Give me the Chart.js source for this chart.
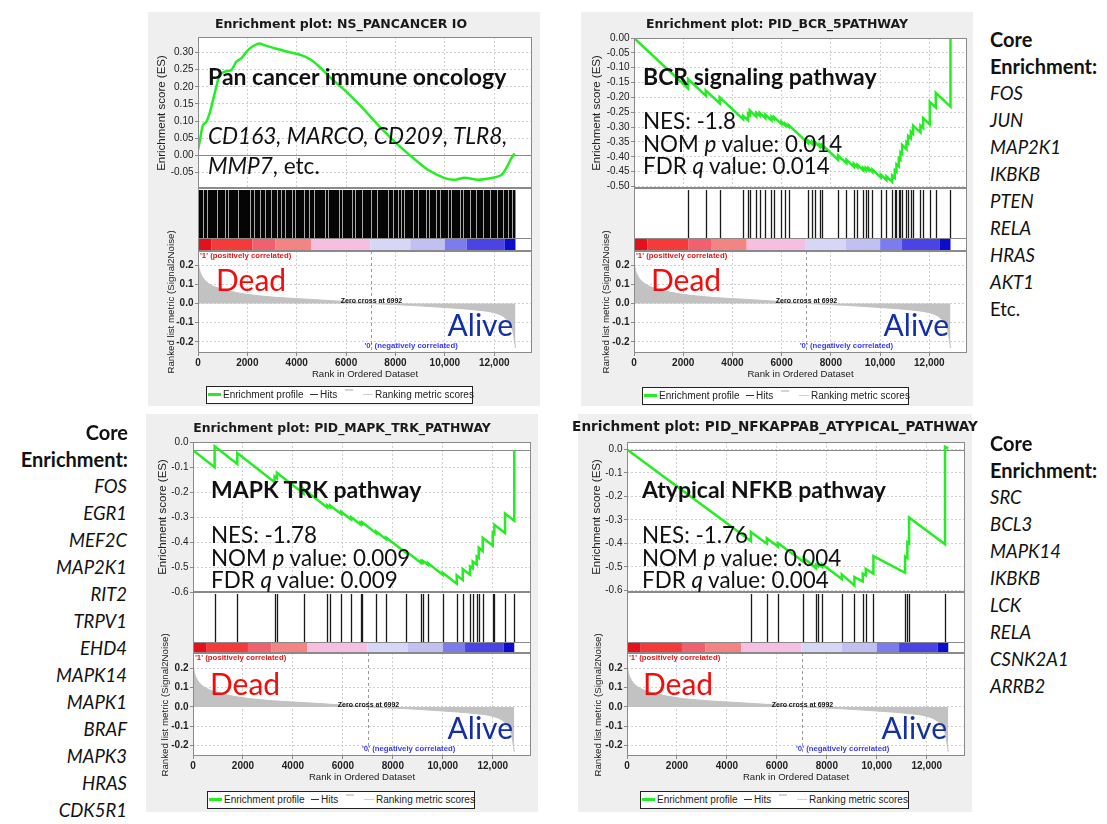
<!DOCTYPE html>
<html>
<head>
<meta charset="utf-8">
<title>GSEA enrichment plots</title>
<script src="https://cdn.jsdelivr.net/npm/chart.js@4.4.1/dist/chart.umd.min.js"></script>
<style>
  body { margin: 0; background: #fff; }
  #page { position: relative; width: 1107px; height: 824px; overflow: hidden; background: #fff; }
  .panel { position: absolute; background: #efefef; }
  canvas { position: absolute; }
  .txt { position: absolute; white-space: nowrap; font-family: Lato, "Open Sans", sans-serif; color: #111; }
  .ptitle { position: absolute; white-space: nowrap; font-family: "DejaVu Sans", sans-serif; font-weight: bold; color: #1a1a1a; transform: translateX(-50%); }
  .ytitle { position: absolute; white-space: nowrap; font-family: "Liberation Sans", Arial, sans-serif; color: #222; transform: translate(-50%, -50%) rotate(-90deg); }
  .legend { position: absolute; box-sizing: border-box; border: 1.5px solid #222; background: #fff; font-family: "Liberation Sans", Arial, sans-serif; font-size: 10px; color: #222; }
  .legend span { position: absolute; white-space: nowrap; line-height: 15px; }
</style>
</head>
<body>
<div id="page"></div>
<script>
// ranks shared by all four plots
const maxRank = 13530;
const geneCount = 12860;
const zeroCross = 6992;
const rankTicks = [0, 2000, 4000, 6000, 8000, 10000, 12000];
const rankTickLabels = ['0', '2000', '4000', '6000', '8000', '10,000', '12,000'];

// ranked list metric (same ordered dataset in every panel)
const metricRank = [0, 40, 135, 340, 675, 1215, 1890, 3240, 4590, 5940, 6992, 8640, 9990, 11340, 12015, 12420, 12620, 12760, 12825, 12860];
const metricScore = [0.215, 0.185, 0.148, 0.113, 0.087, 0.066, 0.049, 0.031, 0.021, 0.010, 0, -0.010, -0.021, -0.035, -0.049, -0.073, -0.104, -0.148, -0.200, -0.232];

// red -> blue colour bar under the hits
const bandStart = [0, 550, 2200, 3130, 4580, 6975, 8600, 10000, 10890, 12430];
const bandColor = ['#e4101a', '#f53a3a', '#f0606e', '#f48484', '#f6bee0', '#d6d6f6', '#c0c0f3', '#7c7cf0', '#4a44e4', '#0c0ccc'];

// NS_PANCANCER IO
const ioRank = [0, 68, 203, 338, 473, 608, 743, 878, 1080, 1350, 1553, 1755, 2025, 2295, 2498, 2700, 3105, 3645, 4185, 4590, 4995, 5400, 5940, 6615, 7290, 7965, 8640, 9315, 9990, 10395, 10800, 11340, 11880, 12285, 12488, 12690, 12825];
const ioES = [0.016, 0.040, 0.089, 0.098, 0.123, 0.161, 0.200, 0.234, 0.244, 0.249, 0.273, 0.283, 0.307, 0.321, 0.326, 0.321, 0.312, 0.302, 0.292, 0.278, 0.253, 0.224, 0.190, 0.142, 0.089, 0.040, -0.003, -0.042, -0.066, -0.071, -0.065, -0.071, -0.066, -0.057, -0.037, -0.009, 0.006];
// hits are so dense that only the pale gaps between them are listed
const ioGaps = [197, 374, 782, 1081, 1217, 1625, 2101, 2278, 2509, 2713, 2958, 3189, 3366, 3529, 3801, 3937, 4277, 4481, 4685, 5161, 5270, 5705, 5841, 6249, 6358, 6657, 6997, 7269, 7677, 7881, 8085, 8221, 8357, 8697, 8901, 9241, 9377, 9649, 9785, 10125, 10261, 10601, 10737, 11009, 11254, 11553, 11825, 12097, 12369, 12573, 12709];

// PID_BCR_5PATHWAY
const bcrHits = [2195, 2913, 3482, 4431, 4634, 4702, 4973, 5108, 5339, 5583, 5691, 5989, 6152, 6287, 7073, 7236, 7344, 7547, 7642, 8293, 8631, 8930, 9079, 9309, 9417, 9526, 9688, 10027, 10257, 10488, 10596, 10664, 10759, 10826, 10894, 11070, 11138, 11247, 11341, 11639, 11748, 12019, 12263, 12859];
const bcrRank = [0, 2195, 2195, 2913, 2913, 3482, 3482, 4431, 4431, 4634, 4634, 4702, 4702, 4973, 4973, 5108, 5108, 5339, 5339, 5583, 5583, 5691, 5691, 5989, 5989, 6152, 6152, 6287, 6287, 7073, 7073, 7236, 7236, 7344, 7344, 7547, 7547, 7642, 7642, 8293, 8293, 8631, 8631, 8930, 8930, 9079, 9079, 9309, 9309, 9417, 9417, 9526, 9526, 9688, 9688, 10027, 10027, 10257, 10257, 10488, 10488, 10596, 10596, 10664, 10664, 10759, 10759, 10826, 10826, 10894, 10894, 11070, 11070, 11138, 11138, 11247, 11247, 11341, 11341, 11639, 11639, 11748, 11748, 12019, 12019, 12263, 12263, 12859, 12859];
const bcrES = [0, -0.170, -0.138, -0.194, -0.176, -0.220, -0.200, -0.273, -0.262, -0.277, -0.255, -0.260, -0.244, -0.265, -0.252, -0.262, -0.252, -0.270, -0.258, -0.277, -0.265, -0.273, -0.266, -0.289, -0.282, -0.295, -0.289, -0.299, -0.293, -0.354, -0.345, -0.357, -0.349, -0.357, -0.350, -0.366, -0.359, -0.366, -0.360, -0.410, -0.395, -0.421, -0.410, -0.433, -0.423, -0.435, -0.427, -0.445, -0.437, -0.445, -0.437, -0.445, -0.438, -0.451, -0.443, -0.469, -0.460, -0.478, -0.466, -0.484, -0.462, -0.470, -0.445, -0.450, -0.425, -0.432, -0.405, -0.410, -0.385, -0.390, -0.360, -0.374, -0.350, -0.355, -0.330, -0.338, -0.315, -0.322, -0.295, -0.318, -0.295, -0.303, -0.270, -0.291, -0.215, -0.234, -0.185, -0.231, 0];

// PID_MAPK_TRK_PATHWAY
const mapkHits = [866, 1773, 3266, 3359, 4426, 5372, 5492, 5932, 6332, 6705, 6772, 7332, 7731, 8531, 9131, 9198, 9398, 9998, 10557, 10797, 11091, 11197, 11357, 11437, 11597, 11997, 12064, 12490, 12860];
const mapkRank = [0, 866, 866, 1773, 1773, 3266, 3266, 3359, 3359, 4426, 4426, 5372, 5372, 5492, 5492, 5932, 5932, 6332, 6332, 6705, 6705, 6772, 6772, 7332, 7332, 7731, 7731, 8531, 8531, 9131, 9131, 9198, 9198, 9398, 9398, 9998, 9998, 10557, 10557, 10797, 10797, 11091, 11091, 11197, 11197, 11357, 11357, 11437, 11437, 11597, 11597, 11997, 11997, 12064, 12064, 12490, 12490, 12860, 12860];
const mapkES = [0, -0.068, 0.016, -0.055, -0.011, -0.128, -0.105, -0.112, -0.090, -0.173, -0.155, -0.229, -0.220, -0.229, -0.221, -0.255, -0.246, -0.277, -0.268, -0.297, -0.290, -0.295, -0.288, -0.332, -0.325, -0.356, -0.349, -0.411, -0.404, -0.451, -0.444, -0.449, -0.442, -0.458, -0.451, -0.498, -0.490, -0.534, -0.500, -0.519, -0.475, -0.498, -0.465, -0.473, -0.445, -0.457, -0.425, -0.431, -0.390, -0.403, -0.350, -0.381, -0.330, -0.335, -0.298, -0.331, -0.253, -0.282, 0];

// PID_NFKAPPAB_ATYPICAL_PATHWAY
const nfkbHits = [4959, 5599, 6038, 7065, 7558, 7638, 7798, 8598, 9104, 9438, 9558, 9864, 11131, 11224, 11291, 12730];
const nfkbRank = [0, 4959, 4959, 5599, 5599, 6038, 6038, 7065, 7065, 7558, 7558, 7638, 7638, 7798, 7798, 8598, 8598, 9104, 9104, 9438, 9438, 9558, 9558, 9864, 9864, 11131, 11131, 11224, 11224, 11291, 11291, 12730, 12730, 12860];
const nfkbES = [0, -0.390, -0.351, -0.401, -0.378, -0.413, -0.398, -0.478, -0.462, -0.505, -0.490, -0.496, -0.488, -0.500, -0.488, -0.552, -0.532, -0.579, -0.543, -0.562, -0.529, -0.536, -0.508, -0.529, -0.454, -0.525, -0.455, -0.462, -0.395, -0.400, -0.290, -0.404, 0.012, 0.005];

// core enrichment gene lists
const coreBCR = ['FOS', 'JUN', 'MAP2K1', 'IKBKB', 'PTEN', 'RELA', 'HRAS', 'AKT1'];
const coreMAPK = ['FOS', 'EGR1', 'MEF2C', 'MAP2K1', 'RIT2', 'TRPV1', 'EHD4', 'MAPK14', 'MAPK1', 'BRAF', 'MAPK3', 'HRAS', 'CDK5R1'];
const coreNFKB = ['SRC', 'BCL3', 'MAPK14', 'IKBKB', 'LCK', 'RELA', 'CSNK2A1', 'ARRB2'];

Chart.defaults.font.family = '"Liberation Sans", Arial, sans-serif';
Chart.defaults.color = '#222';

const page = document.getElementById('page');
const gridGray = '#d0d0d0';
const frameGray = '#8a8a8a';

function fmt(v, d) { return (Math.abs(v) < 1e-9 ? 0 : v).toFixed(d); }
function toPoints(xs, ys) { return xs.map((x, i) => ({ x: x, y: ys[i] })); }

function addCanvas(l, t, w, h) {
  const c = document.createElement('canvas');
  c.width = w; c.height = h;
  c.style.left = l + 'px'; c.style.top = t + 'px';
  c.style.width = w + 'px'; c.style.height = h + 'px';
  page.appendChild(c);
  return c;
}

function addText(html, x, cy, size, o) {
  o = o || {};
  const d = document.createElement('div');
  d.className = 'txt';
  d.innerHTML = html;
  d.style.fontSize = size + 'px';
  d.style.lineHeight = size + 'px';
  d.style.top = (cy - 0.53 * size) + 'px';
  if (o.right) d.style.right = (1107 - x) + 'px'; else d.style.left = x + 'px';
  if (o.bold) d.style.fontWeight = 'bold';
  if (o.italic) d.style.fontStyle = 'italic';
  if (o.color) d.style.color = o.color;
  page.appendChild(d);
}

function addYTitle(text, x, cy, size) {
  const d = document.createElement('div');
  d.className = 'ytitle';
  d.textContent = text;
  d.style.fontSize = size + 'px';
  d.style.lineHeight = size + 'px';
  d.style.left = x + 'px';
  d.style.top = cy + 'px';
  page.appendChild(d);
}

function baseOptions() {
  return { responsive: false, animation: false, events: [],
           plugins: { legend: { display: false }, tooltip: { enabled: false } } };
}

// white plot background and grey frame
const framePlugin = {
  id: 'frameBox',
  beforeDraw(chart) {
    const a = chart.chartArea, ctx = chart.ctx;
    ctx.save();
    ctx.fillStyle = '#fff';
    ctx.fillRect(a.left, a.top, a.right - a.left, a.bottom - a.top);
    ctx.restore();
  },
  afterDraw(chart) {
    const a = chart.chartArea, ctx = chart.ctx;
    ctx.save();
    ctx.strokeStyle = frameGray; ctx.lineWidth = 1;
    ctx.strokeRect(a.left + 0.5, a.top + 0.5, a.right - a.left - 1, a.bottom - a.top - 1);
    ctx.restore();
  }
};

const zeroLine = {
  id: 'zeroLine',
  beforeDatasetsDraw(chart) {
    const { ctx, chartArea: a, scales: { y } } = chart;
    const py = Math.round(y.getPixelForValue(0)) + 0.5;
    ctx.save();
    ctx.strokeStyle = frameGray; ctx.lineWidth = 1;
    ctx.beginPath(); ctx.moveTo(a.left, py); ctx.lineTo(a.right, py); ctx.stroke();
    ctx.restore();
  }
};

function hitsPlugin(p) {
  return {
    id: 'hits',
    afterDatasetsDraw(chart) {
      const { ctx, chartArea: a, scales: { x, y } } = chart;
      const barTop = y.getPixelForValue(p.barFrac);
      ctx.save();
      bandStart.forEach((s, i) => {
        const e = i + 1 < bandStart.length ? bandStart[i + 1] : geneCount;
        const x0 = x.getPixelForValue(s), x1 = x.getPixelForValue(e);
        ctx.fillStyle = bandColor[i];
        ctx.fillRect(x0, barTop, x1 - x0, a.bottom - barTop);
      });
      ctx.strokeStyle = frameGray; ctx.lineWidth = 1;
      ctx.beginPath(); ctx.moveTo(a.left, Math.round(barTop) + 0.5); ctx.lineTo(a.right, Math.round(barTop) + 0.5); ctx.stroke();
      const top = a.top + 2;
      if (p.gaps) {
        const x0 = x.getPixelForValue(0), x1 = x.getPixelForValue(geneCount);
        ctx.fillStyle = '#050505';
        ctx.fillRect(x0, top, x1 - x0, barTop - top);
        ctx.strokeStyle = '#a8a8a8'; ctx.lineWidth = 1;
        p.gaps.forEach(g => {
          const px = Math.round(x.getPixelForValue(g)) + 0.5;
          ctx.beginPath(); ctx.moveTo(px, top); ctx.lineTo(px, barTop); ctx.stroke();
        });
      } else {
        ctx.strokeStyle = '#1a1a1a'; ctx.lineWidth = 1.3;
        p.hits.forEach(h => {
          const px = Math.round(x.getPixelForValue(h)) + 0.5;
          ctx.beginPath(); ctx.moveTo(px, top); ctx.lineTo(px, barTop); ctx.stroke();
        });
      }
      ctx.restore();
    }
  };
}

const metricPlugin = {
  id: 'metricMarks',
  afterDatasetsDraw(chart) {
    const { ctx, chartArea: a, scales: { x, y } } = chart;
    const zx = Math.round(x.getPixelForValue(zeroCross)) + 0.5;
    ctx.save();
    ctx.strokeStyle = '#9a9a9a'; ctx.lineWidth = 1; ctx.setLineDash([3, 3]);
    ctx.beginPath(); ctx.moveTo(zx, a.top); ctx.lineTo(zx, a.bottom); ctx.stroke();
    ctx.setLineDash([]);
    ctx.textBaseline = 'middle';
    ctx.font = 'bold 7px "Liberation Sans", Arial, sans-serif';
    ctx.fillStyle = '#111'; ctx.textAlign = 'center';
    ctx.fillText('Zero cross at ' + zeroCross, zx, y.getPixelForValue(0) - 2);
    ctx.font = 'bold 7.8px "Liberation Sans", Arial, sans-serif';
    ctx.fillStyle = '#e01818'; ctx.textAlign = 'left';
    ctx.fillText("'1' (positively correlated)", a.left + 2, a.top + 5);
    ctx.fillStyle = '#3a3af0'; ctx.textAlign = 'center';
    ctx.fillText("'0' (negatively correlated)", a.left + 0.638 * (a.right - a.left), a.bottom - 7);
    ctx.restore();
  }
};

function rankAxis(showLabels) {
  return {
    type: 'linear', min: 0, max: maxRank,
    afterBuildTicks: s => { s.ticks = rankTicks.map(v => ({ value: v })); },
    ticks: { display: showLabels, autoSkip: false, maxRotation: 0, padding: 1,
             font: { size: 10, weight: 'bold' }, color: '#222', callback: (v, i) => rankTickLabels[i] },
    grid: { color: gridGray, drawTicks: showLabels, tickLength: 3, tickColor: frameGray },
    border: { display: false, dash: [2, 2] }
  };
}

function buildPanel(p) {
  const [bl, bt, br, bb] = p.box;
  const axisW = p.plotL - bl;
  const padR = br - p.plotR;
  const w = br - bl;

  const bg = document.createElement('div');
  bg.className = 'panel';
  bg.style.left = bl + 'px'; bg.style.top = bt + 'px';
  bg.style.width = w + 'px'; bg.style.height = (bb - bt) + 'px';
  page.appendChild(bg);

  // enrichment score
  const o1 = baseOptions();
  o1.layout = { padding: { top: 10, bottom: 10, left: 0, right: padR } };
  o1.scales = {
    x: Object.assign(rankAxis(false), { afterFit: s => { s.height = 0; } }),
    y: {
      min: p.esMin, max: p.esMax,
      ticks: { stepSize: p.esStep, includeBounds: false, autoSkip: false, padding: 1.5, font: { size: 10 }, color: '#222',
               callback: v => fmt(v, p.esDigits) },
      grid: { color: gridGray, tickLength: 3, tickColor: frameGray },
      border: { display: false, dash: [2, 2] },
      afterFit: s => { s.width = axisW; }
    }
  };
  new Chart(addCanvas(bl, p.esTop - 10, w, p.esBot - p.esTop + 20), {
    type: 'line',
    data: { datasets: [{ data: toPoints(p.rank, p.es), borderColor: '#22ee22', borderWidth: 2.5,
                         pointRadius: 0, fill: false, tension: p.tension || 0 }] },
    options: o1,
    plugins: [framePlugin, zeroLine]
  });

  // hits and colour bar
  const hitsH = p.barBot - p.esBot;
  p.barFrac = (p.barBot - p.barTop) / hitsH;
  const o2 = baseOptions();
  o2.layout = { padding: { top: 0, bottom: 0, left: 0, right: padR } };
  o2.scales = {
    x: { type: 'linear', min: 0, max: maxRank, ticks: { display: false }, grid: { display: false },
         border: { display: false }, afterFit: s => { s.height = 0; } },
    y: { type: 'linear', min: 0, max: 1, ticks: { display: false }, grid: { display: false },
         border: { display: false }, afterFit: s => { s.width = axisW; } }
  };
  new Chart(addCanvas(bl, p.esBot, w, hitsH), {
    type: 'scatter', data: { datasets: [] }, options: o2,
    plugins: [framePlugin, hitsPlugin(p)]
  });

  // ranked list metric
  const o3 = baseOptions();
  o3.layout = { padding: { top: 10, bottom: 0, left: 0, right: padR } };
  const xa = rankAxis(true);
  xa.title = { display: true, text: 'Rank in Ordered Dataset', font: { size: 9.6 }, color: '#222', padding: { top: 0, bottom: 3 } };
  xa.afterFit = s => { s.height = 30; };
  o3.scales = {
    x: xa,
    y: {
      min: p.metMin, max: p.metMax,
      ticks: { stepSize: 0.1, includeBounds: false, autoSkip: false, padding: 1.5, font: { size: 10, weight: 'bold' }, color: '#222',
               callback: v => fmt(v, 1) },
      grid: { color: gridGray, tickLength: 3, tickColor: frameGray },
      border: { display: false, dash: [2, 2] },
      afterFit: s => { s.width = axisW; }
    }
  };
  new Chart(addCanvas(bl, p.barBot - 10, w, p.metBot - p.barBot + 40), {
    type: 'line',
    data: { datasets: [{ data: toPoints(metricRank, metricScore), borderColor: '#c2c2c2', backgroundColor: '#c2c2c2',
                         borderWidth: 1, pointRadius: 0, fill: 'origin', cubicInterpolationMode: 'monotone' }] },
    options: o3,
    plugins: [framePlugin, metricPlugin]
  });

  // axis titles
  addYTitle('Enrichment score (ES)', p.esTitleX, (p.esTop + p.esBot) / 2, 11.5);
  addYTitle('Ranked list metric (Signal2Noise)', p.metTitleX, (p.barBot + p.metBot) / 2, 9.7);

  // plot title
  const t = document.createElement('div');
  t.className = 'ptitle';
  t.textContent = p.title;
  t.style.fontSize = p.titleSize + 'px';
  t.style.lineHeight = p.titleSize + 'px';
  t.style.left = p.titleX + 'px';
  t.style.top = (p.titleY - 0.48 * p.titleSize) + 'px';
  page.appendChild(t);

  // legend
  const [ll, lt, lw, lh] = p.legend;
  const lg = document.createElement('div');
  lg.className = 'legend';
  lg.style.left = ll + 'px'; lg.style.top = lt + 'px';
  lg.style.width = lw + 'px'; lg.style.height = lh + 'px';
  lg.innerHTML =
    '<span style="left:1px;top:6px;width:13px;height:2.5px;background:#22ee22"></span>' +
    '<span style="left:16px;top:0">Enrichment profile</span>' +
    '<span style="left:103px;top:6.5px;width:8px;height:1.5px;background:#333"></span>' +
    '<span style="left:113px;top:0">Hits</span>' +
    '<span style="left:138px;top:2px;width:8px;height:1.5px;background:#d4d4d4"></span>' +
    '<span style="left:156px;top:6.5px;width:10px;height:1.5px;background:#d0d0d0"></span>' +
    '<span style="left:168px;top:0">Ranking metric scores</span>';
  page.appendChild(lg);
}

const panels = [
  { box: [148, 12, 540, 406], plotL: 198, plotR: 532, esTop: 37, esBot: 188, barTop: 238, barBot: 251, metBot: 353,
    esMin: -0.095, esMax: 0.345, esStep: 0.05, esDigits: 2, metMin: -0.258, metMax: 0.273,
    rank: ioRank, es: ioES, gaps: ioGaps, tension: 0.3,
    esTitleX: 162, metTitleX: 171, title: 'Enrichment plot: NS_PANCANCER IO', titleX: 341, titleY: 24, titleSize: 12.5,
    legend: [206, 386, 267, 18] },
  { box: [581, 12, 973, 406], plotL: 634, plotR: 967, esTop: 38, esBot: 188, barTop: 238, barBot: 251, metBot: 353,
    esMin: -0.505, esMax: 0, esStep: 0.05, esDigits: 2, metMin: -0.258, metMax: 0.273,
    rank: bcrRank, es: bcrES, hits: bcrHits,
    esTitleX: 597, metTitleX: 606, title: 'Enrichment plot: PID_BCR_5PATHWAY', titleX: 777, titleY: 24, titleSize: 12.5,
    legend: [642, 387, 267, 18] },
  { box: [146, 414, 538, 812], plotL: 193, plotR: 531, esTop: 442, esBot: 592, barTop: 642, barBot: 653, metBot: 756,
    esMin: -0.567, esMax: 0.033, esStep: 0.1, esDigits: 1, metMin: -0.253, metMax: 0.2775,
    rank: mapkRank, es: mapkES, hits: mapkHits,
    esTitleX: 163, metTitleX: 165, title: 'Enrichment plot: PID_MAPK_TRK_PATHWAY', titleX: 342, titleY: 428, titleSize: 12.4,
    legend: [207, 791, 268, 18] },
  { box: [578, 414, 972, 812], plotL: 627, plotR: 965, esTop: 442, esBot: 592, barTop: 642, barBot: 653, metBot: 756,
    esMin: -0.607, esMax: 0.032, esStep: 0.1, esDigits: 1, metMin: -0.253, metMax: 0.2775,
    rank: nfkbRank, es: nfkbES, hits: nfkbHits,
    esTitleX: 597, metTitleX: 598, title: 'Enrichment plot: PID_NFKAPPAB_ATYPICAL_PATHWAY', titleX: 775, titleY: 427, titleSize: 13.6,
    legend: [640, 791, 269, 18] }
];

panels.forEach(buildPanel);

// annotations over the plots
const deadRed = '#f00d0d';
const aliveBlue = '#1230a4';
addText('Pan cancer immune oncology', 208, 77, 23, { bold: true });
addText('<i>CD163, MARCO, CD209, TLR8,</i>', 208, 137, 22.6);
addText('<i>MMP7</i>, etc.', 208, 167, 22.6);
addText('Dead', 216, 280, 30, { color: deadRed });
addText('Alive', 513, 325, 30, { color: aliveBlue, right: true });

addText('BCR signaling pathway', 643, 77, 23, { bold: true });
addText('NES: -1.8', 643, 122, 22.4);
addText('NOM <i>p</i> value: 0.014', 643, 145, 22.4);
addText('FDR <i>q</i> value: 0.014', 643, 167, 22.4);
addText('Dead', 651, 280, 30, { color: deadRed });
addText('Alive', 949, 325, 30, { color: aliveBlue, right: true });

addText('MAPK TRK pathway', 211, 490, 23, { bold: true });
addText('NES: -1.78', 211, 536, 22.4);
addText('NOM <i>p</i> value: 0.009', 211, 559, 22.4);
addText('FDR <i>q</i> value: 0.009', 211, 581, 22.4);
addText('Dead', 210, 684, 30, { color: deadRed });
addText('Alive', 513, 728, 30, { color: aliveBlue, right: true });

addText('Atypical NFKB pathway', 642, 490, 23, { bold: true });
addText('NES: -1.76', 642, 536, 22.4);
addText('NOM <i>p</i> value: 0.004', 642, 559, 22.4);
addText('FDR <i>q</i> value: 0.004', 642, 581, 22.4);
addText('Dead', 643, 684, 30, { color: deadRed });
addText('Alive', 947, 728, 30, { color: aliveBlue, right: true });

// core enrichment lists
function coreList(genes, x, y0, right, tail) {
  const step = 27;
  addText('Core', x, y0, 20, { bold: true, right: right });
  addText('Enrichment:', x, y0 + step, 20, { bold: true, right: right });
  genes.forEach((g, i) => addText(g, right ? x - 1 : x, y0 + step * (i + 2), 18.5, { italic: true, right: right }));
  if (tail) addText(tail, x, y0 + step * (genes.length + 2), 18.5, { right: right });
}
coreList(coreBCR, 990, 40, false, 'Etc.');
coreList(coreMAPK, 128, 433, true);
coreList(coreNFKB, 990, 444, false);
</script>
</body>
</html>
